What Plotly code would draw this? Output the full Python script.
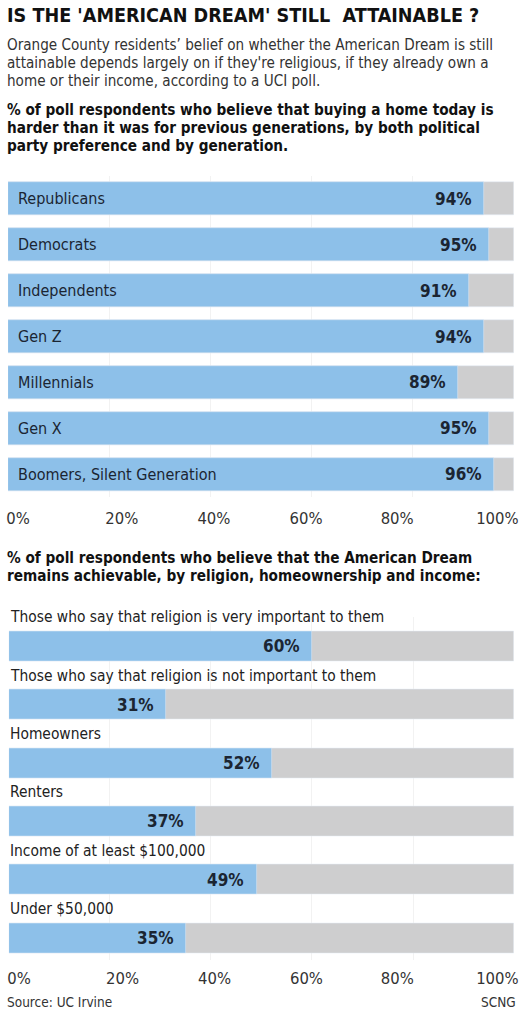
import plotly.graph_objects as go

# ---- data ----
cats1 = ["Republicans", "Democrats", "Independents", "Gen Z", "Millennials", "Gen X",
         "Boomers, Silent Generation"]
vals1 = [94, 95, 91, 94, 89, 95, 96]

cats2 = ["Those who say that religion is very important to them",
         "Those who say that religion is not important to them",
         "Homeowners", "Renters", "Income of at least $100,000", "Under $50,000"]
vals2 = [60, 31, 52, 37, 49, 35]

tick_text = ["0%", "20%", "40%", "60%", "80%", "100%"]

title = "IS THE 'AMERICAN DREAM' STILL  ATTAINABLE ?"
intro_lines = ["Orange County residents\u2019 belief on whether the American Dream is still",
               "attainable depends largely on if they're religious, if they already own a",
               "home or their income, according to a UCI poll."]
head1_lines = ["% of poll respondents who believe that buying a home today is",
               "harder than it was for previous generations, by both political",
               "party preference and by generation."]
head2_lines = ["% of poll respondents who believe that the American Dream",
               "remains achievable, by religion, homeownership and income:"]
source = "Source: UC Irvine"
credit = "SCNG"

# ---- style ----
W, H = 523, 1024
BLUE = "#8DC0E9"
GRAY = "#CECECF"
DARK = "#1b2532"
FONT = "DejaVu Sans Condensed, Liberation Sans Narrow, Roboto, sans-serif"

def py(p):
    return 1 - p / H

def px(p):
    return p / W

fig = go.Figure()

full1 = [100] * len(cats1)
full2 = [100] * len(cats2)
fig.add_trace(go.Bar(y=cats1, x=full1, orientation="h", marker_color=GRAY,
                     width=0.72, xaxis="x", yaxis="y", hoverinfo="skip"))
fig.add_trace(go.Bar(y=cats1, x=vals1, orientation="h", marker_color=BLUE,
                     width=0.72, xaxis="x", yaxis="y"))
fig.add_trace(go.Bar(y=cats2, x=full2, orientation="h", marker_color=GRAY,
                     width=0.515, xaxis="x2", yaxis="y2", hoverinfo="skip"))
fig.add_trace(go.Bar(y=cats2, x=vals2, orientation="h", marker_color=BLUE,
                     width=0.515, xaxis="x2", yaxis="y2"))

ann = []
ann.append(dict(text=title, x=px(3), y=py(15), xref="paper", yref="paper",
                xanchor="left", yanchor="middle", showarrow=False,
                font=dict(family=FONT, size=19.6, color="#111111", weight="bold")))
for i, t in enumerate(intro_lines):
    ann.append(dict(text=t, x=px(3), y=py(45 + 18 * i), xref="paper", yref="paper",
                    xanchor="left", yanchor="middle", showarrow=False,
                    font=dict(family=FONT, size=15.1, color="#333333")))
for i, t in enumerate(head1_lines):
    ann.append(dict(text=t, x=px(3), y=py(110 + 18 * i), xref="paper", yref="paper",
                    xanchor="left", yanchor="middle", showarrow=False,
                    font=dict(family=FONT, size=15.2, color="#111111", weight="bold")))
for i, t in enumerate(head2_lines):
    ann.append(dict(text=t, x=px(3), y=py(558 + 17.5 * i), xref="paper", yref="paper",
                    xanchor="left", yanchor="middle", showarrow=False,
                    font=dict(family=FONT, size=15.2, color="#111111", weight="bold")))

for c, v in zip(cats1, vals1):
    ann.append(dict(text=c, x=0, y=c, xref="x", yref="y", xanchor="left",
                    yanchor="middle", xshift=8, showarrow=False,
                    font=dict(family=FONT, size=16, color=DARK)))
    ann.append(dict(text=f"{v}%", x=v, y=c, xref="x", yref="y", xanchor="right",
                    yanchor="middle", xshift=-10, showarrow=False,
                    font=dict(family=FONT, size=17, color=DARK, weight="bold")))
for c, v in zip(cats2, vals2):
    ann.append(dict(text=c, x=0, y=c, xref="x2", yref="y2", xanchor="left",
                    yanchor="middle", xshift=-1, yshift=29, showarrow=False,
                    font=dict(family=FONT, size=15.4, color="#222222")))
    ann.append(dict(text=f"{v}%", x=v, y=c, xref="x2", yref="y2", xanchor="right",
                    yanchor="middle", xshift=-10, showarrow=False,
                    font=dict(family=FONT, size=17, color=DARK, weight="bold")))

ann.append(dict(text=source, x=px(3), y=py(1002), xref="paper", yref="paper",
                xanchor="left", yanchor="middle", showarrow=False,
                font=dict(family=FONT, size=13.5, color="#333333")))
ann.append(dict(text=credit, x=px(522), y=py(1002), xref="paper", yref="paper",
                xanchor="right", yanchor="middle", showarrow=False,
                font=dict(family=FONT, size=13.5, color="#333333")))

tick_pos = [2.0, 22.5, 40.7, 58.9, 76.9, 96.7]

def xax(domain, ticklen):
    return dict(domain=domain, range=[0, 100], showgrid=False, zeroline=False,
                tickmode="array", tickvals=tick_pos, ticktext=tick_text,
                ticks="outside", ticklen=ticklen, tickcolor="rgba(0,0,0,0)",
                tickfont=dict(family=FONT, size=16.5, color="#333333"),
                minor=dict(tickmode="array", tickvals=[20, 40, 60, 80], showgrid=True,
                           gridcolor="#f2f2f2", ticks=""),
                fixedrange=True, layer="below traces")

y1 = dict(domain=[py(497), py(176)], range=[len(cats1) - 0.5, -0.5],
          showticklabels=False, showgrid=False, zeroline=False, fixedrange=True)
pitch2 = 58.3
top2, bot2 = 617.3, 960.0
y2 = dict(domain=[py(bot2), py(top2)], anchor="x2",
          range=[-0.5 + (bot2 - top2) / pitch2, -0.5],
          showticklabels=False, showgrid=False, zeroline=False, fixedrange=True)

x1 = xax([px(6), px(518)], 6)
x2 = xax([px(7), px(518)], 3)
x2["anchor"] = "y2"

fig.update_layout(
    width=W, height=H, margin=dict(l=0, r=0, t=0, b=0),
    paper_bgcolor="white", plot_bgcolor="white",
    barmode="overlay", bargap=0, showlegend=False,
    xaxis=x1, yaxis=y1, xaxis2=x2, yaxis2=y2,
    annotations=ann,
)

fig.write_html("out.html", config={"displayModeBar": False},
               post_script="document.documentElement.style.margin='0';"
                           "document.body.style.margin='0';document.body.style.padding='0';"
                           "document.documentElement.style.overflow='hidden';"
                           "document.body.style.overflow='hidden';")
